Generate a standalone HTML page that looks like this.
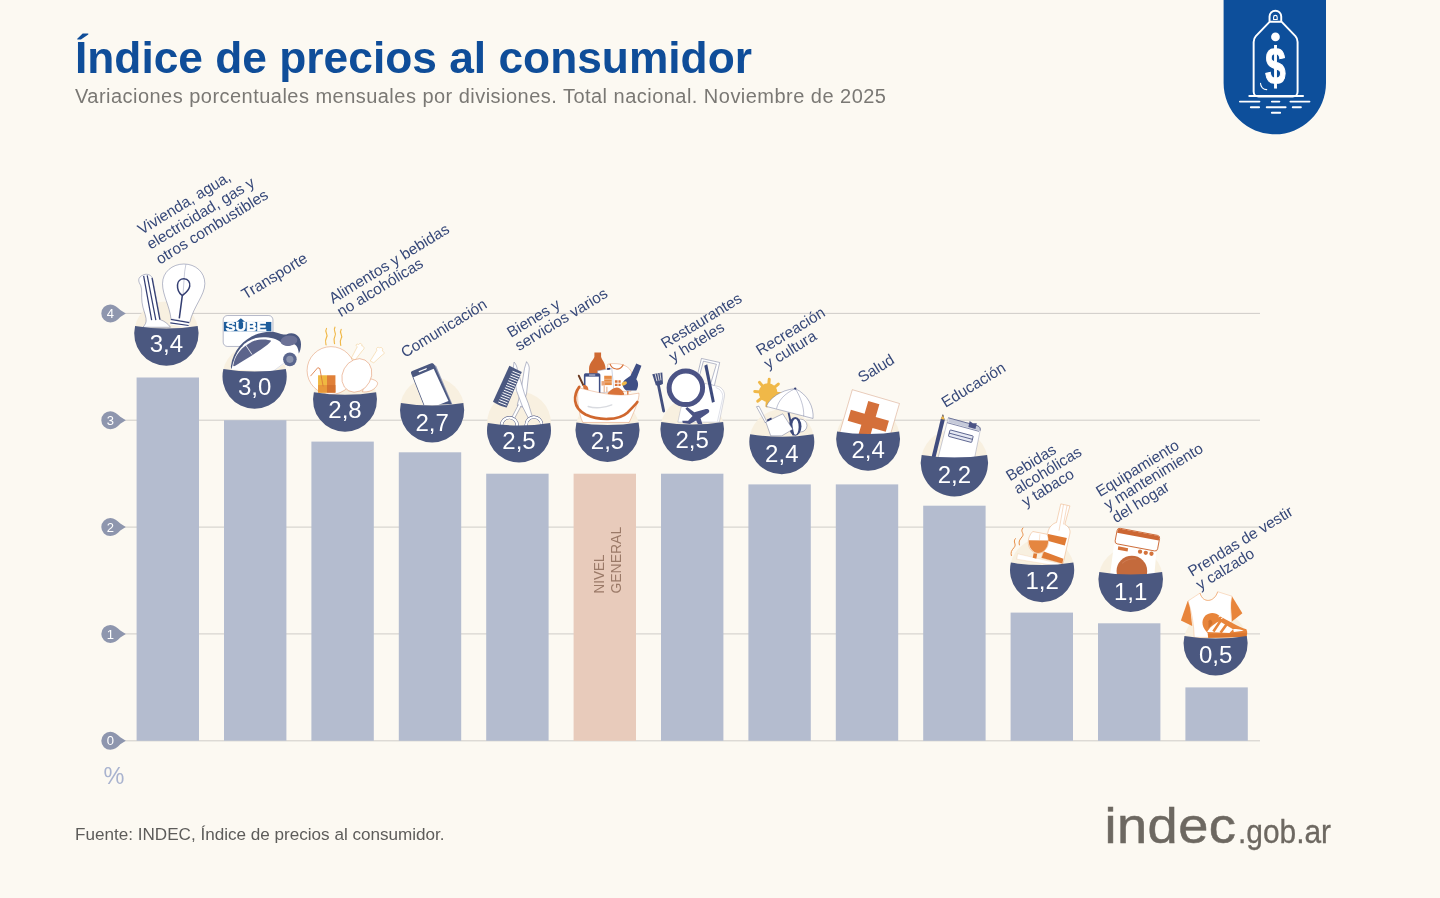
<!DOCTYPE html>
<html lang="es"><head><meta charset="utf-8"><title>Índice de precios al consumidor</title>
<style>
html,body{margin:0;padding:0;background:#fcf9f2;}
body{width:1440px;height:898px;overflow:hidden;font-family:"Liberation Sans",sans-serif;}
svg{display:block}
text{font-family:"Liberation Sans",sans-serif;}
.lbl{font-size:15.4px;fill:#364879;}
.val{font-size:24px;fill:#fff;text-anchor:middle;}
.ax{font-size:13px;fill:#fff;text-anchor:middle;}
</style></head><body>
<svg width="1440" height="898" viewBox="0 0 1440 898">
<rect width="1440" height="898" fill="#fcf9f2"/>

<text x="75" y="73" font-size="44.3" font-weight="700" fill="#0f4d99">Índice de precios al consumidor</text>
<text x="75" y="102.9" font-size="20" letter-spacing="0.47" fill="#7a7874">Variaciones porcentuales mensuales por divisiones. Total nacional. Noviembre de 2025</text>
<line x1="120" x2="1260" y1="740.8" y2="740.8" stroke="#c4c2be" stroke-width="0.8"/>
<line x1="120" x2="1260" y1="633.9" y2="633.9" stroke="#c4c2be" stroke-width="0.8"/>
<line x1="120" x2="1260" y1="527.1" y2="527.1" stroke="#c4c2be" stroke-width="0.8"/>
<line x1="120" x2="1260" y1="420.2" y2="420.2" stroke="#c4c2be" stroke-width="0.8"/>
<line x1="120" x2="1260" y1="313.4" y2="313.4" stroke="#c4c2be" stroke-width="0.8"/>
<rect x="136.6" y="377.5" width="62.4" height="363.3" fill="#b4bccf"/>
<rect x="224.0" y="420.2" width="62.4" height="320.5" fill="#b4bccf"/>
<rect x="311.4" y="441.6" width="62.4" height="299.2" fill="#b4bccf"/>
<rect x="398.8" y="452.3" width="62.4" height="288.5" fill="#b4bccf"/>
<rect x="486.2" y="473.7" width="62.4" height="267.1" fill="#b4bccf"/>
<rect x="573.6" y="473.7" width="62.4" height="267.1" fill="#e8cbbb"/>
<rect x="661.0" y="473.7" width="62.4" height="267.1" fill="#b4bccf"/>
<rect x="748.4" y="484.4" width="62.4" height="256.4" fill="#b4bccf"/>
<rect x="835.8" y="484.4" width="62.4" height="256.4" fill="#b4bccf"/>
<rect x="923.2" y="505.7" width="62.4" height="235.1" fill="#b4bccf"/>
<rect x="1010.6" y="612.6" width="62.4" height="128.2" fill="#b4bccf"/>
<rect x="1098.0" y="623.3" width="62.4" height="117.5" fill="#b4bccf"/>
<rect x="1185.4" y="687.4" width="62.4" height="53.4" fill="#b4bccf"/>
<path d="M101.3,740.8 a9,9 0 0 1 9,-9 c4,0 7,2.5 10,5.5 l5.5,3.5 l-5.5,3.5 c-3,3 -6,5.5 -10,5.5 a9,9 0 0 1 -9,-9z" fill="#8e96ae"/>
<text class="ax" x="110.3" y="745.4">0</text>
<path d="M101.3,633.9 a9,9 0 0 1 9,-9 c4,0 7,2.5 10,5.5 l5.5,3.5 l-5.5,3.5 c-3,3 -6,5.5 -10,5.5 a9,9 0 0 1 -9,-9z" fill="#8e96ae"/>
<text class="ax" x="110.3" y="638.5">1</text>
<path d="M101.3,527.1 a9,9 0 0 1 9,-9 c4,0 7,2.5 10,5.5 l5.5,3.5 l-5.5,3.5 c-3,3 -6,5.5 -10,5.5 a9,9 0 0 1 -9,-9z" fill="#8e96ae"/>
<text class="ax" x="110.3" y="531.7">2</text>
<path d="M101.3,420.2 a9,9 0 0 1 9,-9 c4,0 7,2.5 10,5.5 l5.5,3.5 l-5.5,3.5 c-3,3 -6,5.5 -10,5.5 a9,9 0 0 1 -9,-9z" fill="#8e96ae"/>
<text class="ax" x="110.3" y="424.9">3</text>
<path d="M101.3,313.4 a9,9 0 0 1 9,-9 c4,0 7,2.5 10,5.5 l5.5,3.5 l-5.5,3.5 c-3,3 -6,5.5 -10,5.5 a9,9 0 0 1 -9,-9z" fill="#8e96ae"/>
<text class="ax" x="110.3" y="318.0">4</text>
<text x="103.6" y="783.8" font-size="23.5" fill="#a9b3cf">%</text>
<text transform="translate(604.4,593.4) rotate(-90)" font-size="14.8" fill="#9b7a68" textLength="38.8" lengthAdjust="spacingAndGlyphs">NIVEL</text>
<text transform="translate(621.1,593.6) rotate(-90)" font-size="14.8" fill="#9b7a68" textLength="66.8" lengthAdjust="spacingAndGlyphs">GENERAL</text>
<circle cx="166.4" cy="333.6" r="32.2" fill="#f8f0e0"/>
<circle cx="254.6" cy="376.6" r="32.1" fill="#f8f0e0"/>
<circle cx="345.0" cy="399.8" r="32" fill="#f8f0e0"/>
<circle cx="432.1" cy="409.1" r="32.1" fill="#f8f0e0"/>
<circle cx="519.0" cy="423.5" r="32" fill="#f8f0e0"/>
<circle cx="607.5" cy="430.0" r="32" fill="#f8f0e0"/>
<circle cx="692.2" cy="429.4" r="31.8" fill="#f8f0e0"/>
<circle cx="781.8" cy="441.8" r="32.5" fill="#f8f0e0"/>
<circle cx="868.1" cy="438.9" r="31.9" fill="#f8f0e0"/>
<circle cx="954.4" cy="462.8" r="33.65" fill="#f8f0e0"/>
<circle cx="1042.1" cy="570.1" r="32.1" fill="#f8f0e0"/>
<circle cx="1130.7" cy="579.6" r="32.3" fill="#f8f0e0"/>
<circle cx="1215.6" cy="643.5" r="32.05" fill="#f8f0e0"/>
<g transform="translate(126,256) scale(0.08909)">
<path d="M200,210 C240,195 290,215 300,260 L385,715 C430,730 470,760 500,800 L190,800 C215,770 232,750 225,700 C215,640 190,600 180,520 C170,450 185,380 165,330 C140,290 120,240 200,210Z" fill="#fff" stroke="#333e72" stroke-width="4"/>
<path d="M198,222 L288,720 M238,218 L335,720 M292,245 L380,715" stroke="#333e72" stroke-width="14" fill="none"/>
<path d="M505,705 C490,560 410,440 410,310 C410,180 520,90 650,90 C780,90 885,180 885,310 C885,440 760,560 715,745 Z" fill="#fff" stroke="#333e72" stroke-width="4"/>
<path d="M672,95 C660,150 655,200 652,255 L640,440" stroke="#333e72" stroke-width="3" fill="none"/>
<path d="M650,255 C700,255 722,300 715,340 C705,390 650,430 632,445 C600,420 575,370 578,325 C580,285 610,255 650,255Z M632,445 L598,700" stroke="#333e72" stroke-width="17" fill="none"/>
<path d="M505,698 L714,738 L700,805 L488,765Z" fill="#fff"/>
<path d="M503,712 L710,748 M497,750 L703,780" stroke="#333e72" stroke-width="13" fill="none"/>
</g>
<g transform="translate(166.4,333.6)">
<path d="M-31.31,-7.5 Q0,-2.5 31.31,-7.5 A32.2,32.2 0 1 1 -31.31,-7.5z" fill="#4b5880"/>
<text class="val" x="0" y="18.6">3,4</text>
</g>
<g transform="translate(215,305) scale(0.08913)">
<rect x="92" y="118" width="558" height="347" rx="48" fill="#fff" stroke="#333e72" stroke-width="4"/>
<rect x="100" y="190" width="532" height="105" fill="#1d5c9b"/>
<path d="M240,192 L290,150 L340,192Z" fill="#1d5c9b"/>
<text x="122" y="288" font-size="134" font-weight="700" fill="#fff" stroke="#fff" stroke-width="7" textLength="455" lengthAdjust="spacingAndGlyphs">SUBE</text>
<path d="M265,200 h50 v60 h-50z" fill="#1d5c9b"/>
<path d="M180,725 C180,560 330,380 560,365 C700,360 800,420 940,470 C955,520 940,550 900,580 L650,745 Z" fill="#fff"/>
<path d="M178,690 C215,420 450,290 640,300 C720,310 760,340 800,330 C880,290 965,340 965,440 C965,480 955,520 940,545 C935,470 900,430 870,440 C820,470 770,460 740,420 C690,370 560,350 460,370 C330,400 220,520 185,725 Z" fill="#4b5880"/>
<path d="M205,675 C225,560 300,470 420,410 C500,375 600,385 630,402 C610,445 450,545 232,680 C215,690 203,690 205,675Z" fill="#5c648b"/>
<path d="M335,435 L415,555" stroke="#fff" stroke-width="9"/>
<ellipse cx="830" cy="400" rx="95" ry="58" fill="#6b7196" transform="rotate(-8 830 400)"/>
<circle cx="840" cy="610" r="76" fill="#5a668e"/>
<circle cx="840" cy="610" r="40" fill="#8a93ae"/>
<path d="M650,745 L770,655" stroke="#333e72" stroke-width="3" stroke-opacity="0.6"/>
</g>
<g transform="translate(254.6,376.6)">
<path d="M-31.22,-7.4767080745341605 Q0,-2.4767080745341605 31.22,-7.4767080745341605 A32.1,32.1 0 1 1 -31.22,-7.4767080745341605z" fill="#4b5880"/>
<text class="val" x="0" y="18.6">3,0</text>
</g>
<g transform="translate(298,320) scale(0.08913)">
<path d="M320,95 c-30,45 25,60 0,100 c-20,35 -10,60 -5,85 M415,80 c-30,45 25,60 0,100 c-20,35 -10,60 -5,85 M485,105 c-30,45 25,60 0,100 c-20,35 -10,55 -5,80" stroke="#f0b848" stroke-width="13" fill="none" stroke-linecap="round"/>
<path d="M600,425 L665,300 C640,285 655,262 680,275 C690,255 725,262 715,290 C745,295 750,325 725,340 L640,450Z" fill="#fff" stroke="#f0c27a" stroke-width="5"/>
<path d="M810,460 L885,340 C870,315 895,298 915,312 C940,300 960,325 945,345 C975,360 970,385 945,392 L850,480Z" fill="#fff" stroke="#f0c27a" stroke-width="5"/>
<circle cx="370" cy="567" r="268" fill="#fff" stroke="#d9733a" stroke-width="4.5"/>
<path d="M790,655 C860,668 905,690 890,725 C865,785 790,815 720,805Z" fill="#fff" stroke="#d9733a" stroke-width="4.5"/>
<ellipse cx="660" cy="622" rx="160" ry="195" transform="rotate(28 660 622)" fill="#fff" stroke="#d9733a" stroke-width="4.5"/>
<rect x="225" y="620" width="100" height="195" fill="#f0b840"/>
<rect x="325" y="620" width="95" height="195" fill="#e08038"/>
<rect x="225" y="730" width="100" height="85" fill="#e8973a"/>
<rect x="325" y="730" width="95" height="85" fill="#d4722f"/>
<path d="M140,630 L222,535 L245,545 L282,745" stroke="#d9733a" stroke-width="9" fill="none"/>
</g>
<g transform="translate(345.0,399.8)">
<path d="M-31.12,-7.453416149068322 Q0,-2.453416149068322 31.12,-7.453416149068322 A32,32 0 1 1 -31.12,-7.453416149068322z" fill="#4b5880"/>
<text class="val" x="0" y="18.6">2,8</text>
</g>
<g transform="translate(390,350) scale(0.07797)">
<path d="M545,175 L592,205 L800,695 L755,695Z" fill="#9098b3"/>
<path d="M285,270 L530,170 C550,165 560,175 568,190 L790,695 L430,705 L272,305 C265,288 270,278 285,270Z" fill="#4b5880"/>
<path d="M300,350 L560,240 L750,655 L620,705 L440,705Z" fill="#fff"/>
<path d="M375,277 L465,240" stroke="#fff" stroke-width="16" stroke-linecap="round"/>
</g>
<g transform="translate(432.1,410.4)">
<path d="M-31.22,-7.4767080745341605 Q0,-2.4767080745341605 31.22,-7.4767080745341605 A32.1,32.1 0 1 1 -31.22,-7.4767080745341605z" fill="#4b5880"/>
<text class="val" x="0" y="20.1">2,7</text>
</g>
<g transform="translate(478,355) scale(0.08909)">
<path d="M545,75 C565,100 578,130 575,160 L545,430 L500,585 L440,565 L482,400 L522,150Z" fill="#fff" stroke="#333e72" stroke-width="4"/>
<path d="M405,80 C425,100 438,130 442,165 L520,430 L565,545 L612,700 L572,722 L500,580 L432,400 L395,150Z" fill="#fff" stroke="#333e72" stroke-width="4"/>
<path d="M470,560 L385,720" stroke="#fff" stroke-width="30"/>
<path d="M455,555 L372,715 M485,570 L402,728" stroke="#333e72" stroke-width="4"/>
<circle cx="352" cy="790" r="88" fill="none" stroke="#333e72" stroke-width="34"/>
<circle cx="352" cy="790" r="88" fill="none" stroke="#fff" stroke-width="26"/>
<circle cx="628" cy="785" r="88" fill="none" stroke="#333e72" stroke-width="34"/>
<circle cx="628" cy="785" r="88" fill="none" stroke="#fff" stroke-width="26"/>
<path d="M352,122 L492,192 L322,588 C300,590 200,550 168,525Z" fill="#4b5880"/>
<path d="M388,183 l92,36" stroke="#fff" stroke-width="11"/><path d="M376,210 l92,36" stroke="#fff" stroke-width="11"/><path d="M363,236 l92,36" stroke="#fff" stroke-width="11"/><path d="M351,262 l92,36" stroke="#fff" stroke-width="11"/><path d="M339,289 l92,36" stroke="#fff" stroke-width="11"/><path d="M326,316 l92,36" stroke="#fff" stroke-width="11"/><path d="M314,342 l92,36" stroke="#fff" stroke-width="11"/><path d="M302,368 l92,36" stroke="#fff" stroke-width="11"/><path d="M290,395 l92,36" stroke="#fff" stroke-width="11"/><path d="M277,422 l92,36" stroke="#fff" stroke-width="11"/><path d="M265,448 l92,36" stroke="#fff" stroke-width="11"/><path d="M253,474 l92,36" stroke="#fff" stroke-width="11"/><path d="M240,501 l92,36" stroke="#fff" stroke-width="11"/><path d="M228,528 l92,36" stroke="#fff" stroke-width="11"/>
</g>
<g transform="translate(519.0,430.5)">
<path d="M-31.12,-7.453416149068322 Q0,-2.453416149068322 31.12,-7.453416149068322 A32,32 0 1 1 -31.12,-7.453416149068322z" fill="#4b5880"/>
<text class="val" x="0" y="18.6">2,5</text>
</g>
<g transform="translate(565,345) scale(0.08909)">
<path d="M330,85 h75 v48 c5,30 50,70 50,130 v60 h-185 v-60 c0,-60 55,-100 60,-130z" fill="#cf6a33"/>
<path d="M480,215 C560,200 700,205 745,300 L740,520 L480,520Z" fill="#fff" stroke="#d9733a" stroke-width="4"/>
<path d="M505,212 C530,285 620,290 655,218" fill="none" stroke="#d9733a" stroke-width="14"/>
<path d="M365,290 L525,262 L550,520 L385,540Z" fill="#fff" stroke="#8f9ab8" stroke-width="5"/>
<path d="M470,262 l35,-8 l5,20 l-35,8z" fill="#333e72"/>
<rect x="440" y="345" width="85" height="105" fill="#e58a43"/>
<path d="M440,385 h85 M440,415 h85" stroke="#fff" stroke-width="7" stroke-opacity="0.6"/>
<rect x="410" y="405" width="40" height="50" fill="#eaa57a"/>
<path d="M440,460 v70 M470,470 v60" stroke="#e9b08c" stroke-width="12"/>
<path d="M560,395 h30 v30 h-30z M600,395 h25 v30 h-25z M560,435 h30 v25 h-30z M600,435 h25 v25 h-25z" fill="#d9733a"/>
<path d="M480,540 C540,470 600,450 650,520 L660,560 L480,560Z" fill="#d9733a"/>
<path d="M800,207 L858,232 L800,385 C830,420 825,470 800,512 L690,512 C640,480 630,420 680,385 L735,345Z" fill="#3f4f85"/>
<ellipse cx="665" cy="432" rx="32" ry="20" transform="rotate(-25 665 432)" fill="#f0b848"/>
<rect x="212" y="318" width="185" height="235" rx="18" fill="#3f4f85"/>
<rect x="230" y="355" width="150" height="185" fill="#fff"/>
<path d="M275,337 h60" stroke="#fff" stroke-width="9" stroke-linecap="round"/>
<path d="M155,345 L205,450" stroke="#6b3a22" stroke-width="22" stroke-linecap="round"/>
<path d="M200,450 C240,440 270,470 260,520 L215,520Z" fill="#d9733a"/>
<path d="M585,545 v55 M620,540 v65 M655,535 v70 M705,515 v75" stroke="#d9733a" stroke-width="15"/>
<path d="M150,480 C330,520 560,600 830,540 C835,600 800,700 720,870 L200,870 C150,760 130,600 150,480Z" fill="#fff" stroke="#d9733a" stroke-width="4"/>
<path d="M260,690 C340,715 450,705 525,672" fill="none" stroke="#d9dbe0" stroke-width="16" stroke-linecap="round"/>
<path d="M160,470 C95,560 80,700 230,780 C380,850 600,850 700,760 C760,700 790,670 812,640" fill="none" stroke="#d0672e" stroke-width="30" stroke-linecap="round"/>
</g>
<g transform="translate(607.5,430.0)">
<path d="M-31.12,-7.453416149068322 Q0,-2.453416149068322 31.12,-7.453416149068322 A32,32 0 1 1 -31.12,-7.453416149068322z" fill="#4b5880"/>
<text class="val" x="0" y="18.6">2,5</text>
</g>
<g transform="translate(648,350) scale(0.08909)">
<path d="M600,95 L805,140 L745,400 L700,390 L768,160 L622,125 L575,300 L560,260Z" fill="#fff" stroke="#333e72" stroke-width="4"/>
<path d="M640,375 L790,410 C830,420 865,470 858,520 L800,810 L335,810 L372,640 L560,560Z" fill="#fff" stroke="#333e72" stroke-width="3" stroke-opacity="0.7"/>
<path d="M760,420 L800,440 C830,470 845,500 838,540 L780,800" fill="none" stroke="#333e72" stroke-width="3" stroke-opacity="0.6"/>
<path d="M632,178 L665,160 L750,580 L718,592Z" fill="#3d4a7c"/>
<circle cx="425" cy="425" r="188" fill="#fff" stroke="#4b5385" stroke-width="56"/>
<path d="M115,385 L176,685" stroke="#44507f" stroke-width="32" stroke-linecap="round"/>
<path d="M48,272 L160,252 L168,378 C150,395 110,402 88,395Z" fill="#44507f"/>
<path d="M80,268 L100,350 M108,262 L124,345 M135,258 L146,340" stroke="#fbf8f1" stroke-width="9"/>
<path d="M440,640 L520,700 L640,665 C680,655 700,680 680,705 L590,765 L610,830 L560,830 L540,790 L470,830 L390,820 L385,795 L450,795 L500,740 L420,660Z" fill="#4b5385"/>
</g>
<g transform="translate(692.2,429.4)">
<path d="M-30.93,-7.406832298136646 Q0,-2.4068322981366457 30.93,-7.406832298136646 A31.8,31.8 0 1 1 -30.93,-7.406832298136646z" fill="#4b5880"/>
<text class="val" x="0" y="18.6">2,5</text>
</g>
<g transform="translate(740,365) scale(0.08909)">
<path d="M315,310 L328,161" stroke="#f0b848" stroke-width="34" stroke-linecap="round"/><path d="M315,310 L430,214" stroke="#f0b848" stroke-width="34" stroke-linecap="round"/><path d="M315,310 L464,323" stroke="#f0b848" stroke-width="34" stroke-linecap="round"/><path d="M315,310 L411,425" stroke="#f0b848" stroke-width="34" stroke-linecap="round"/><path d="M315,310 L302,459" stroke="#f0b848" stroke-width="34" stroke-linecap="round"/><path d="M315,310 L200,406" stroke="#f0b848" stroke-width="34" stroke-linecap="round"/><path d="M315,310 L166,297" stroke="#f0b848" stroke-width="34" stroke-linecap="round"/><path d="M315,310 L219,195" stroke="#f0b848" stroke-width="34" stroke-linecap="round"/>
<circle cx="315" cy="310" r="105" fill="#f0b848"/>
<circle cx="680" cy="680" r="72" fill="#fff" stroke="#333e72" stroke-width="4"/>
<ellipse cx="620" cy="690" rx="70" ry="105" fill="#3d4a7c"/>
<ellipse cx="622" cy="695" rx="36" ry="88" fill="#fff"/>
<path d="M545,535 L600,790" stroke="#3d4a7c" stroke-width="22"/>
<path d="M295,465 C330,380 450,280 620,265 C760,330 830,470 820,600Z" fill="#fff" stroke="#333e72" stroke-width="4"/>
<path d="M620,265 C500,320 430,400 410,490 M620,265 C680,360 720,470 715,575" fill="none" stroke="#333e72" stroke-width="3.5"/>
<circle cx="620" cy="265" r="13" fill="#333e72"/>
<path d="M185,468 L213,462 L300,635 L285,650Z" fill="#fff" stroke="#333e72" stroke-width="4"/>
<path d="M290,640 L480,548 L592,722 L470,795 L345,795Z" fill="#fff" stroke="#333e72" stroke-width="4"/>
<path d="M300,615 l50,-25 l8,18 l-48,25z" fill="#333e72"/>
</g>
<g transform="translate(781.8,441.8)">
<path d="M-31.61,-7.569875776397515 Q0,-2.569875776397515 31.61,-7.569875776397515 A32.5,32.5 0 1 1 -31.61,-7.569875776397515z" fill="#4b5880"/>
<text class="val" x="0" y="20.3">2,4</text>
</g>
<g transform="translate(826,375) scale(0.08909)">
<g transform="translate(295,165) rotate(16.3)">
<rect x="0" y="0" width="552" height="552" fill="#fff" stroke="#c9805a" stroke-width="4"/>
<path d="M208,72 h130 v148 h155 v128 h-155 v230 h-130 v-230 h-160 v-128 h160z" fill="#d4703a"/>
</g>
</g>
<g transform="translate(868.1,438.9)">
<path d="M-31.02,-7.430124223602484 Q0,-2.4301242236024843 31.02,-7.430124223602484 A31.9,31.9 0 1 1 -31.02,-7.430124223602484z" fill="#4b5880"/>
<text class="val" x="0" y="18.6">2,4</text>
</g>
<g transform="translate(914,400) scale(0.08909)">
<path d="M325,160 L345,225 L240,650 L195,650 L300,215Z" fill="#3f4b7d"/>
<path d="M325,160 L343,222 L302,214Z" fill="#f0b848"/>
<path d="M325,160 L333,185 L317,182Z" fill="#3f4b7d"/>
<path d="M385,200 L715,290 C740,300 748,320 742,345 L680,650 L270,650Z" fill="#fff" stroke="#333e72" stroke-width="3.5" stroke-opacity="0.8"/>
<path d="M388,205 L715,293 C738,302 745,322 738,345 L385,250Z" fill="#c6cad9"/>
<path d="M385,200 L715,290 C740,300 748,320 742,345 M372,255 L730,352" fill="none" stroke="#333e72" stroke-width="7"/>
<path d="M625,235 L660,262 L705,262 L690,325 L610,303Z" fill="#4b5385"/>
<g transform="translate(405,335) rotate(15)"><rect x="0" y="0" width="270" height="75" rx="8" fill="#e6e9f3" stroke="#333e72" stroke-width="8"/><path d="M0,38 h270" stroke="#333e72" stroke-width="8"/></g>
</g>
<g transform="translate(954.4,462.8)">
<path d="M-32.72,-7.837732919254658 Q0,-2.837732919254658 32.72,-7.837732919254658 A33.65,33.65 0 1 1 -32.72,-7.837732919254658z" fill="#4b5880"/>
<text class="val" x="0" y="19.700000000000003">2,2</text>
</g>
<g transform="translate(1002,495) scale(0.08909)">
<path d="M235,370 c-40,40 25,60 -10,100 c-30,35 -40,55 -30,90 M150,490 c-35,40 20,60 -15,100 c-30,35 -40,55 -30,90" fill="none" stroke="#e58a43" stroke-width="11" stroke-linecap="round"/>
<path d="M660,100 L762,122 L705,330 C760,360 770,400 760,440 L685,770 L445,705 L515,420 C525,360 570,320 612,308Z" fill="#fff" stroke="#e58a43" stroke-width="4"/>
<path d="M690,110 L640,400 M730,118 L690,330" stroke="#e58a43" stroke-width="3.5" fill="none"/>
<path d="M517,438 L728,482 L705,568 L500,512Z" fill="#e07b35"/>
<path d="M470,635 L688,715 L678,770 L445,705Z" fill="#e07b35"/>
<path d="M175,660 L650,770 L640,800 L165,720Z" fill="#fff" stroke="#f2c9a5" stroke-width="4"/>
<path d="M345,410 C310,440 290,500 295,540 C300,610 350,655 405,655 C460,655 515,600 520,540 C522,500 520,470 505,440Z" fill="#fff" stroke="#e58a43" stroke-width="4"/>
<path d="M300,508 L518,510 C520,590 470,648 405,650 C345,650 298,590 300,508Z" fill="#e58640"/>
<path d="M425,440 L420,505" stroke="#f6d9c0" stroke-width="8"/>
<path d="M355,655 L395,660 L385,715 L345,705Z" fill="#e07b35"/>
</g>
<g transform="translate(1042.1,570.1)">
<path d="M-31.22,-7.4767080745341605 Q0,-2.4767080745341605 31.22,-7.4767080745341605 A32.1,32.1 0 1 1 -31.22,-7.4767080745341605z" fill="#4b5880"/>
<text class="val" x="0" y="18.6">1,2</text>
</g>
<g transform="translate(1090,510) scale(0.08909)">
<path d="M270,385 L745,470 L722,730 L225,730Z" fill="#fff"/>
<path d="M318,408 L428,428 L422,465 L312,445Z" fill="#d4733c"/>
<circle cx="562" cy="468" r="24" fill="#d4733c"/><circle cx="626" cy="480" r="24" fill="#d4733c"/><circle cx="690" cy="491" r="24" fill="#d4733c"/>
<circle cx="470" cy="685" r="172" fill="#c46a3c"/>
<path d="M360,600 C400,560 470,540 520,550" stroke="#d48560" stroke-width="12" fill="none" stroke-opacity="0.6"/>
<g transform="translate(310,200) rotate(10.7)">
<rect x="0" y="0" width="485" height="178" rx="30" fill="#fff" stroke="#cc6633" stroke-width="10"/>
<path d="M5,55 V30 a25,25 0 0 1 25,-25 H455 a25,25 0 0 1 25,25 V55Z" fill="#cc6633"/>
</g>
</g>
<g transform="translate(1130.7,579.6)">
<path d="M-31.41,-7.523291925465837 Q0,-2.523291925465837 31.41,-7.523291925465837 A32.3,32.3 0 1 1 -31.41,-7.523291925465837z" fill="#4b5880"/>
<text class="val" x="0" y="20.1">1,1</text>
</g>
<g transform="translate(1176,575) scale(0.08909)">
<path d="M150,285 L130,295 L55,510 L182,572Z" fill="#e8853b"/>
<path d="M628,238 L745,430 L628,522 L612,300Z" fill="#e8853b"/>
<path d="M270,203 C300,320 430,310 468,188 L628,238 C610,330 615,430 625,520 L622,700 L205,700 C200,560 180,420 135,292Z" fill="#fff" stroke="#f0a469" stroke-width="4"/>
<path d="M270,203 C300,320 430,310 468,188" fill="none" stroke="#e8853b" stroke-width="5"/>
<path d="M360,700 L355,650 C300,600 270,520 330,455 C380,410 450,420 490,460 C560,500 700,580 790,610 C805,640 800,670 790,690 L365,705Z" fill="#e8853b"/>
<path d="M350,640 C380,590 420,550 490,520 L640,610 L600,650Z" fill="#fff"/>
<path d="M365,520 C380,490 400,500 410,540 L365,600Z" fill="#d0722f"/>
<path d="M500,515 L420,635 M575,545 L500,648" stroke="#e8853b" stroke-width="30"/>
<path d="M640,610 C680,600 720,610 760,625 L650,640Z" fill="#fff"/>
<path d="M358,660 L795,648 L790,695 L362,705Z" fill="#dc772f"/>
<path d="M478,470 l30,-15 M505,490 l30,-15" stroke="#fff" stroke-width="10"/>
</g>
<g transform="translate(1215.6,643.5)">
<path d="M-31.17,-7.465062111801241 Q0,-2.465062111801241 31.17,-7.465062111801241 A32.05,32.05 0 1 1 -31.17,-7.465062111801241z" fill="#4b5880"/>
<text class="val" x="0" y="19.400000000000002">0,5</text>
</g>
<text class="lbl" transform="translate(141.7,235) rotate(-31.5)"><tspan x="0" y="0.0">Vivienda, agua,</tspan><tspan x="0" y="17.4">electricidad, gas y</tspan><tspan x="0" y="34.8">otros combustibles</tspan></text>
<text class="lbl" transform="translate(245.5,299.7) rotate(-31.5)"><tspan x="0" y="0.0">Transporte</tspan></text>
<text class="lbl" transform="translate(333,304) rotate(-31.5)"><tspan x="0" y="0.0">Alimentos y bebidas</tspan><tspan x="0" y="15.5">no alcohólicas</tspan></text>
<text class="lbl" transform="translate(405,358) rotate(-31.5)"><tspan x="0" y="0.0">Comunicación</tspan></text>
<text class="lbl" transform="translate(511,338) rotate(-31.5)"><tspan x="0" y="0.0">Bienes y</tspan><tspan x="0" y="15.5">servicios varios</tspan></text>
<text class="lbl" transform="translate(665,349) rotate(-31.5)"><tspan x="0" y="0.0">Restaurantes</tspan><tspan x="0" y="15.5">y hoteles</tspan></text>
<text class="lbl" transform="translate(760,356) rotate(-31.5)"><tspan x="0" y="0.0">Recreación</tspan><tspan x="0" y="15.5">y cultura</tspan></text>
<text class="lbl" transform="translate(862,383) rotate(-31.5)"><tspan x="0" y="0.0">Salud</tspan></text>
<text class="lbl" transform="translate(945.5,408) rotate(-31.5)"><tspan x="0" y="0.0">Educación</tspan></text>
<text class="lbl" transform="translate(1010,481.6) rotate(-31.5)"><tspan x="0" y="0.0">Bebidas</tspan><tspan x="0" y="15.0">alcohólicas</tspan><tspan x="0" y="30.0">y tabaco</tspan></text>
<text class="lbl" transform="translate(1100,497.3) rotate(-31.5)"><tspan x="0" y="0.0">Equipamiento</tspan><tspan x="0" y="15.2">y mantenimiento</tspan><tspan x="0" y="30.4">del hogar</tspan></text>
<text class="lbl" transform="translate(1192,577) rotate(-31.5)"><tspan x="0" y="0.0">Prendas de vestir</tspan><tspan x="0" y="15.5">y calzado</tspan></text>
<text x="75" y="840" font-size="17.1" fill="#5d5c5a">Fuente: INDEC, Índice de precios al consumidor.</text>
<path d="M1223.6,0 H1326 V83.1 a51.2,51.2 0 0 1 -102.4,0z" fill="#0d4f9b"/>
<g transform="translate(1215,0) scale(0.15584)" fill="none" stroke="#fff" stroke-width="12.5" stroke-linecap="round" stroke-linejoin="round">
<path d="M350,135 V106 a37.5,37.5 0 0 1 75,0 V135"/>
<path d="M376,125 V110 a11.5,11.5 0 0 1 23,0 V125Z" stroke-width="7"/>
<path d="M350,140 L262,232 C252,243 248,255 248,270 V588 a32,32 0 0 0 32,32 H498 a32,32 0 0 0 32,-32 V270 C530,255 526,243 516,232 L428,140 Z"/>
<circle cx="388" cy="237" r="28" fill="#fff" stroke="none"/>
<path d="M292,535 a40,40 0 0 0 40,40" stroke-width="7"/>
<path d="M220,616 H565 M160,652 H285 M365,652 H413 M484,652 H606 M230,688 H283 M332,688 H453 M499,688 H551 M365,724 H418"/>
</g>
<text transform="translate(1275.4,83.5) scale(0.72,1)" font-size="51" font-weight="700" fill="#fff" stroke="#fff" stroke-width="1.2" text-anchor="middle">$</text>
<text transform="translate(1104.5,842.7) scale(1.085,1)" font-size="50" fill="#6d6861" stroke="#6d6861" stroke-width="0.5" letter-spacing="0.4">indec</text>
<text x="1238" y="842.7" font-size="34" fill="#6d6861" stroke="#6d6861" stroke-width="0.3" textLength="93" lengthAdjust="spacingAndGlyphs">.gob.ar</text>
</svg></body></html>
